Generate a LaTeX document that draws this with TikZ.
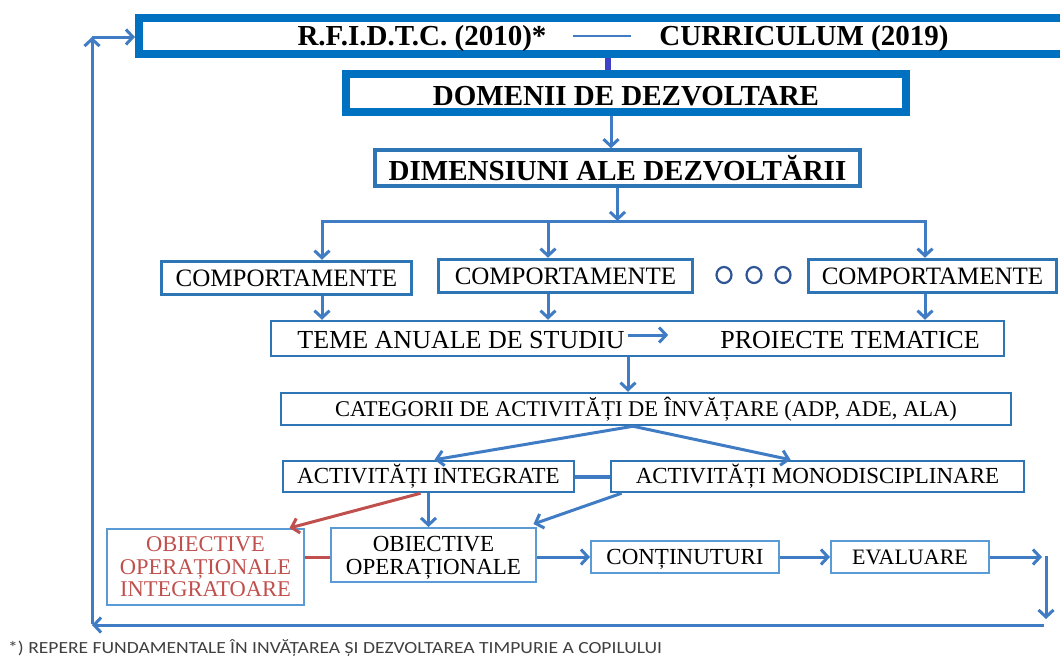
\documentclass[tikz,border=0pt]{standalone}
\usepackage{fontspec}
\setmainfont{Liberation Serif}
\newfontfamily\footfont{Carlito}
\usetikzlibrary{arrows.meta,calc,shapes.geometric}
\definecolor{thickblue}{HTML}{0070C0}
\definecolor{arrblue}{HTML}{3F7CC4}
\definecolor{boxblue}{HTML}{2E75B6}
\definecolor{lightblue}{HTML}{5B9BD5}
\definecolor{linkpurple}{HTML}{4040C8}
\definecolor{redline}{HTML}{C0504D}
\definecolor{circblue}{HTML}{2F5597}
\definecolor{footgray}{HTML}{404040}
\tikzset{
  heavybox/.style={draw=thickblue,line width=8pt,minimum width=#1,inner sep=0pt},
  midbox/.style={draw=boxblue,line width=3.5pt,minimum width=#1,inner sep=0pt},
  thinbox/.style={draw=boxblue,line width=2.5pt,minimum width=#1,inner sep=0pt},
  lightbox/.style={draw=lightblue,line width=2pt,minimum width=#1,inner sep=0pt},
  bigtxt/.style={font=\fontsize{29}{32}\selectfont\bfseries,inner sep=0pt},
  comptxt/.style={font=\fontsize{25}{28}\selectfont,inner sep=0pt},
  midtxt/.style={font=\fontsize{23}{22.5}\selectfont,inner sep=0pt,align=center},
  arr/.style={draw=arrblue,line width=3pt,-{Straight Barb[length=7pt,width=15pt]}},
  plainline/.style={draw=arrblue,line width=3pt},
}
\begin{document}
\begin{tikzpicture}[x=1pt,y=-1pt]
\clip (0,0) rectangle (1060,659);
\fill[white] (0,0) rectangle (1060,659);

% top box
\node[heavybox=931pt,minimum height=36pt] (top) at (604.5,36) {};
\node[bigtxt] (t1) at (422,39) {R.F.I.D.T.C. (2010)*};
\node[bigtxt] (t2) at (804,39) {CURRICULUM (2019)};
\draw[arrblue,line width=2.5pt,shorten <=26pt,shorten >=28pt] (t1.east |- 0,36) -- (t2.west |- 0,36);

% domenii
\node[heavybox=560pt,minimum height=38pt] (dom) at (626,93) {};
\node[bigtxt] at (626,96) {DOMENII DE DEZVOLTARE};
\coordinate (c1) at (608,0);
\draw[linkpurple,line width=6pt] (top.south -| c1) -- (dom.north -| c1);

% dimensiuni
\node[midbox=485pt,minimum height=36pt,bigtxt] (dim) at (617.5,168) {DIMENSIUNI ALE DEZVOLTĂRII};
\coordinate (c2) at (611,0);
\draw[arr] (dom.south -| c2) -- (dim.north -| c2);

% bar
\coordinate (barL) at (322,221);
\coordinate (barR) at (925,221);
\coordinate (barM) at (548,221);
\draw[plainline] ([xshift=-1.5pt]barL) -- ([xshift=1.5pt]barR);
\draw[arr] (dim.south) -- (dim.south |- barL);

% comportamente
\node[midbox=250pt,minimum height=33pt,comptxt] (cp1) at (286.5,278) {COMPORTAMENTE};
\node[midbox=254pt,minimum height=33pt,comptxt] (cp2) at (565.5,276) {COMPORTAMENTE};
\node[midbox=248pt,minimum height=33pt,comptxt] (cp3) at (932.5,276) {COMPORTAMENTE};
\draw[arr] (barL) -- (barL |- cp1.north);
\draw[arr] (barM) -- (barM |- cp2.north);
\draw[arr] (barR) -- (barR |- cp3.north);

% circles
\foreach \i/\cx in {1/724,2/754,3/783}
  \node[draw=circblue,line width=2.2pt,ellipse,minimum width=15pt,minimum height=16pt,inner sep=0pt] (o\i) at (\cx,275) {};

% teme
\node[thinbox=733pt,minimum height=35pt] (teme) at (637.5,338.5) {};
\node[comptxt,font=\fontsize{26}{28}\selectfont] (tm1) at (461,340) {TEME ANUALE DE STUDIU};
\node[comptxt,font=\fontsize{26}{28}\selectfont] (tm2) at (850,340) {PROIECTE TEMATICE};
\draw[arr,shorten <=3pt,shorten >=52pt] (tm1.east |- 0,335) -- (tm2.west |- 0,335);
\draw[arr] (barL |- cp1.south) -- (barL |- teme.north);
\draw[arr] (barM |- cp2.south) -- (barM |- teme.north);
\draw[arr] (barR |- cp3.south) -- (barR |- teme.north);

% categorii
\node[thinbox=730pt,minimum height=32pt,font=\fontsize{22.5}{24}\selectfont] (cat) at (646,409) {CATEGORII DE ACTIVITĂȚI DE ÎNVĂȚARE (ADP, ADE, ALA)};
\coordinate (c3) at (628,0);
\draw[arr] (teme.south -| c3) -- (cat.north -| c3);

% activitati
\node[thinbox=291pt,minimum height=31pt,midtxt] (ai) at (428.5,476.5) {ACTIVITĂȚI INTEGRATE};
\node[thinbox=413pt,minimum height=31pt,midtxt] (am) at (817.5,476.5) {ACTIVITĂȚI MONODISCIPLINARE};
\coordinate (c4) at (633,0);
\draw[arr] (cat.south -| c4) -- ([xshift=6pt]ai.north);
\draw[arr] (cat.south -| c4) -- ([xshift=-27pt]am.north);
\draw[plainline,line width=4pt] (ai.east) -- (am.west);

% obiective
\node[lightbox=197pt,minimum height=76pt,midtxt,text=redline,font=\fontsize{22.5}{22.5}\selectfont] (ooi) at (205.5,567) {OBIECTIVE\\OPERAȚIONALE\\INTEGRATOARE};
\node[lightbox=205pt,minimum height=54pt] (oo) at (433.5,555) {};
\node[midtxt] (ootxt) at (433.5,558) {OBIECTIVE\\OPERAȚIONALE};
\draw[redline,line width=3pt] (ooi.east |- 0,557) -- (oo.west |- 0,557);
\draw[redline,line width=3pt,-{Straight Barb[length=7pt,width=15pt]}] ([xshift=-8pt]ai.south) -- ([xshift=84pt]ooi.north);
\draw[arr] (ai.south) -- (ai.south |- oo.north);
\draw[arr] ([xshift=-196pt]am.south) -- ([xshift=100pt,yshift=3pt]oo.north);

% continuturi, evaluare
\node[lightbox=188pt,minimum height=32pt,midtxt,text height=16pt,text depth=2pt] (con) at (685,557) {CONȚINUTURI};
\node[lightbox=158pt,minimum height=32pt,midtxt,font=\fontsize{22}{22}\selectfont,text height=16pt,text depth=2pt] (ev) at (910,557) {EVALUARE};
\draw[arr] (oo.east |- con) -- (con.west);
\draw[arr] (con.east) -- (ev.west);

% feedback loop
\coordinate (r0) at (1042,557);
\coordinate (r1) at (1046,556);
\coordinate (r2) at (1046,619);
\coordinate (b1) at (1044,625);
\coordinate (b2) at (92,625);
\coordinate (l1) at (92,624);
\coordinate (l2) at (92,37);
\draw[arr] (ev.east) -- (r0);
\draw[arr] (r1) -- (r2);
\draw[arr] (b1) -- (b2);
\draw[arr] (l1) -- (l2);
\draw[arr] (l2) -- (l2 -| top.west);

% footnote
\node[anchor=west,inner sep=0pt,text=footgray,font=\footfont\fontsize{17}{18}\selectfont] (fn) at (8,648) {\scalebox{1.15}[1]{*) REPERE FUNDAMENTALE ÎN INVĂȚAREA ȘI DEZVOLTAREA TIMPURIE A COPILULUI}};
\end{tikzpicture}
\end{document}
